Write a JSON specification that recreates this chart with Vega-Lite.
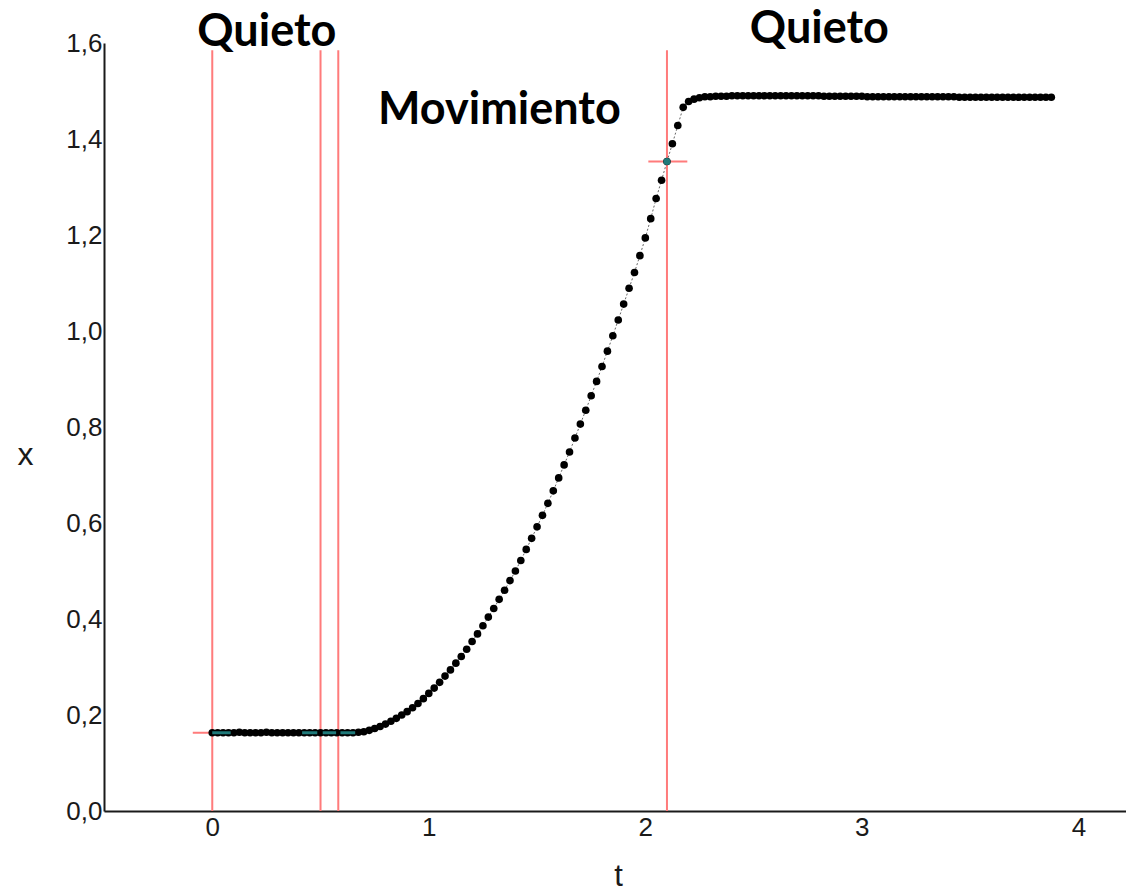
{
  "$schema": "https://vega.github.io/schema/vega-lite/v6.json",
  "autosize": {"type": "none"},
  "padding": {"left": 104, "top": 43, "right": 0, "bottom": 80},
  "width": 1022,
  "height": 768,
  "background": "white",
  "config": {"view": {"stroke": null}},
  "datasets": {
    "curve": [
      {"t": 0.0, "x": 0.163}, {"t": 0.025, "x": 0.163}, {"t": 0.05, "x": 0.163}, {"t": 0.075, "x": 0.163},
      {"t": 0.1, "x": 0.163}, {"t": 0.125, "x": 0.164}, {"t": 0.15, "x": 0.163}, {"t": 0.175, "x": 0.163},
      {"t": 0.2, "x": 0.163}, {"t": 0.225, "x": 0.163}, {"t": 0.25, "x": 0.164}, {"t": 0.275, "x": 0.163},
      {"t": 0.3, "x": 0.163}, {"t": 0.325, "x": 0.163}, {"t": 0.35, "x": 0.163}, {"t": 0.375, "x": 0.163},
      {"t": 0.4, "x": 0.163}, {"t": 0.425, "x": 0.163}, {"t": 0.45, "x": 0.163}, {"t": 0.475, "x": 0.163},
      {"t": 0.5, "x": 0.163}, {"t": 0.525, "x": 0.163}, {"t": 0.55, "x": 0.163}, {"t": 0.575, "x": 0.163},
      {"t": 0.6, "x": 0.163}, {"t": 0.625, "x": 0.163}, {"t": 0.65, "x": 0.163}, {"t": 0.675, "x": 0.164},
      {"t": 0.7, "x": 0.165}, {"t": 0.725, "x": 0.168}, {"t": 0.75, "x": 0.172}, {"t": 0.775, "x": 0.176},
      {"t": 0.8, "x": 0.181}, {"t": 0.825, "x": 0.187}, {"t": 0.85, "x": 0.193}, {"t": 0.875, "x": 0.2},
      {"t": 0.9, "x": 0.207}, {"t": 0.925, "x": 0.215}, {"t": 0.95, "x": 0.224}, {"t": 0.975, "x": 0.234},
      {"t": 1.0, "x": 0.245}, {"t": 1.025, "x": 0.256}, {"t": 1.05, "x": 0.268}, {"t": 1.075, "x": 0.281},
      {"t": 1.1, "x": 0.294}, {"t": 1.125, "x": 0.308}, {"t": 1.15, "x": 0.322}, {"t": 1.175, "x": 0.337},
      {"t": 1.2, "x": 0.353}, {"t": 1.225, "x": 0.369}, {"t": 1.25, "x": 0.386}, {"t": 1.275, "x": 0.404},
      {"t": 1.3, "x": 0.422}, {"t": 1.325, "x": 0.441}, {"t": 1.35, "x": 0.46}, {"t": 1.375, "x": 0.48},
      {"t": 1.4, "x": 0.5}, {"t": 1.425, "x": 0.522}, {"t": 1.45, "x": 0.545}, {"t": 1.475, "x": 0.568},
      {"t": 1.5, "x": 0.592}, {"t": 1.525, "x": 0.616}, {"t": 1.55, "x": 0.641}, {"t": 1.575, "x": 0.667},
      {"t": 1.6, "x": 0.694}, {"t": 1.625, "x": 0.721}, {"t": 1.65, "x": 0.748}, {"t": 1.675, "x": 0.777},
      {"t": 1.7, "x": 0.806}, {"t": 1.725, "x": 0.835}, {"t": 1.75, "x": 0.865}, {"t": 1.775, "x": 0.895},
      {"t": 1.8, "x": 0.926}, {"t": 1.825, "x": 0.958}, {"t": 1.85, "x": 0.99}, {"t": 1.875, "x": 1.023},
      {"t": 1.9, "x": 1.056}, {"t": 1.925, "x": 1.089}, {"t": 1.95, "x": 1.122}, {"t": 1.975, "x": 1.157},
      {"t": 2.0, "x": 1.194}, {"t": 2.025, "x": 1.234}, {"t": 2.05, "x": 1.276}, {"t": 2.075, "x": 1.314},
      {"t": 2.1, "x": 1.353}, {"t": 2.125, "x": 1.39}, {"t": 2.15, "x": 1.428}, {"t": 2.175, "x": 1.466},
      {"t": 2.2, "x": 1.478}, {"t": 2.225, "x": 1.483}, {"t": 2.25, "x": 1.486}, {"t": 2.275, "x": 1.488},
      {"t": 2.3, "x": 1.488}, {"t": 2.325, "x": 1.489}, {"t": 2.35, "x": 1.489}, {"t": 2.375, "x": 1.489},
      {"t": 2.4, "x": 1.49}, {"t": 2.425, "x": 1.49}, {"t": 2.45, "x": 1.49}, {"t": 2.475, "x": 1.49},
      {"t": 2.5, "x": 1.49}, {"t": 2.525, "x": 1.49}, {"t": 2.55, "x": 1.49}, {"t": 2.575, "x": 1.49},
      {"t": 2.6, "x": 1.49}, {"t": 2.625, "x": 1.49}, {"t": 2.65, "x": 1.49}, {"t": 2.675, "x": 1.49},
      {"t": 2.7, "x": 1.49}, {"t": 2.725, "x": 1.49}, {"t": 2.75, "x": 1.49}, {"t": 2.775, "x": 1.49},
      {"t": 2.8, "x": 1.49}, {"t": 2.825, "x": 1.489}, {"t": 2.85, "x": 1.489}, {"t": 2.875, "x": 1.489},
      {"t": 2.9, "x": 1.489}, {"t": 2.925, "x": 1.489}, {"t": 2.95, "x": 1.489}, {"t": 2.975, "x": 1.489},
      {"t": 3.0, "x": 1.489}, {"t": 3.025, "x": 1.488}, {"t": 3.05, "x": 1.488}, {"t": 3.075, "x": 1.488},
      {"t": 3.1, "x": 1.488}, {"t": 3.125, "x": 1.488}, {"t": 3.15, "x": 1.488}, {"t": 3.175, "x": 1.488},
      {"t": 3.2, "x": 1.488}, {"t": 3.225, "x": 1.488}, {"t": 3.25, "x": 1.488}, {"t": 3.275, "x": 1.488},
      {"t": 3.3, "x": 1.488}, {"t": 3.325, "x": 1.488}, {"t": 3.35, "x": 1.488}, {"t": 3.375, "x": 1.488},
      {"t": 3.4, "x": 1.488}, {"t": 3.425, "x": 1.488}, {"t": 3.45, "x": 1.487}, {"t": 3.475, "x": 1.487},
      {"t": 3.5, "x": 1.487}, {"t": 3.525, "x": 1.487}, {"t": 3.55, "x": 1.487}, {"t": 3.575, "x": 1.487},
      {"t": 3.6, "x": 1.487}, {"t": 3.625, "x": 1.487}, {"t": 3.65, "x": 1.487}, {"t": 3.675, "x": 1.487},
      {"t": 3.7, "x": 1.487}, {"t": 3.725, "x": 1.487}, {"t": 3.75, "x": 1.487}, {"t": 3.775, "x": 1.487},
      {"t": 3.8, "x": 1.487}, {"t": 3.825, "x": 1.487}, {"t": 3.85, "x": 1.487}, {"t": 3.875, "x": 1.487}
    ],
    "vlines": [
      {"t": 0.0, "x": 0, "x2": 1.585},
      {"t": 0.5, "x": 0, "x2": 1.585},
      {"t": 0.582, "x": 0, "x2": 1.585},
      {"t": 2.1, "x": 0, "x2": 1.585}
    ],
    "redsegs": [
      {"t": -0.09, "t2": 0.0, "x": 0.163},
      {"t": 2.014, "t2": 2.194, "x": 1.353}
    ],
    "tealsegs": [
      {"t": 0.0, "t2": 0.085, "x": 0.163},
      {"t": 0.415, "t2": 0.485, "x": 0.163},
      {"t": 0.51, "t2": 0.572, "x": 0.163},
      {"t": 0.592, "t2": 0.66, "x": 0.163}
    ],
    "tealpts": [
      {"t": 2.1, "x": 1.353}
    ],
    "labels": [
      {"t": 0.252, "x": 1.594, "label": "Quieto"},
      {"t": 1.326, "x": 1.431, "label": "Movimiento"},
      {"t": 2.804, "x": 1.6, "label": "Quieto"}
    ]
  },
  "encoding": {
    "x": {
      "field": "t",
      "type": "quantitative",
      "scale": {"domain": [-0.5, 4.22], "nice": false, "zero": false},
      "axis": {
        "values": [0, 1, 2, 3, 4],
        "ticks": false,
        "grid": false,
        "domainColor": "#1a1a1a",
        "domainWidth": 2,
        "labelFont": "Liberation Sans",
        "labelFontSize": 26,
        "labelColor": "#1a1a1a",
        "labelPadding": 3,
        "labelFlush": false,
        "labelOverlap": false,
        "labelBound": false,
        "title": "t",
        "titleFont": "Liberation Sans",
        "titleFontSize": 31,
        "titleFontWeight": "normal",
        "titleColor": "#1a1a1a",
        "titleX": 514,
        "titleY": 65,
        "titleBaseline": "middle",
        "titleAlign": "center"
      }
    },
    "y": {
      "field": "x",
      "type": "quantitative",
      "scale": {"domain": [0, 1.6], "nice": false, "zero": false},
      "axis": {
        "values": [0, 0.2, 0.4, 0.6, 0.8, 1.0, 1.2, 1.4, 1.6],
        "labelExpr": "replace(format(datum.value, '.1f'), '.', ',')",
        "ticks": false,
        "grid": false,
        "domainColor": "#1a1a1a",
        "domainWidth": 2,
        "labelFont": "Liberation Sans",
        "labelFontSize": 26,
        "labelColor": "#1a1a1a",
        "labelPadding": 2,
        "labelFlush": false,
        "labelOverlap": false,
        "labelBound": false,
        "title": "x",
        "titleFont": "Liberation Sans",
        "titleFontSize": 32,
        "titleFontWeight": "normal",
        "titleColor": "#1a1a1a",
        "titleAngle": 0,
        "titleX": -79,
        "titleY": 411,
        "titleBaseline": "middle",
        "titleAlign": "center"
      }
    }
  },
  "layer": [
    {
      "data": {"name": "vlines"},
      "mark": {"type": "rule", "color": "#ff7b7b", "strokeWidth": 2},
      "encoding": {"y2": {"field": "x2"}}
    },
    {
      "data": {"name": "redsegs"},
      "mark": {"type": "rule", "color": "#ff7b7b", "strokeWidth": 2},
      "encoding": {"x2": {"field": "t2"}}
    },
    {
      "data": {"name": "curve"},
      "mark": {"type": "line", "color": "#666666", "strokeWidth": 1, "strokeDash": [2, 2]},
      "encoding": {}
    },
    {
      "data": {"name": "curve"},
      "mark": {"type": "point", "filled": true, "color": "#000000", "size": 58, "opacity": 1}
    },
    {
      "data": {"name": "tealsegs"},
      "mark": {"type": "rule", "color": "#1f7a7a", "strokeWidth": 3},
      "encoding": {"x2": {"field": "t2"}}
    },
    {
      "data": {"name": "tealpts"},
      "mark": {"type": "point", "filled": true, "color": "#1f7a7a", "size": 50, "opacity": 1}
    },
    {
      "data": {"name": "labels"},
      "mark": {"type": "text", "font": "Lato", "fontWeight": "bold", "fontSize": 45, "color": "#000000", "align": "center", "baseline": "alphabetic"},
      "encoding": {"text": {"field": "label"}}
    }
  ]
}
